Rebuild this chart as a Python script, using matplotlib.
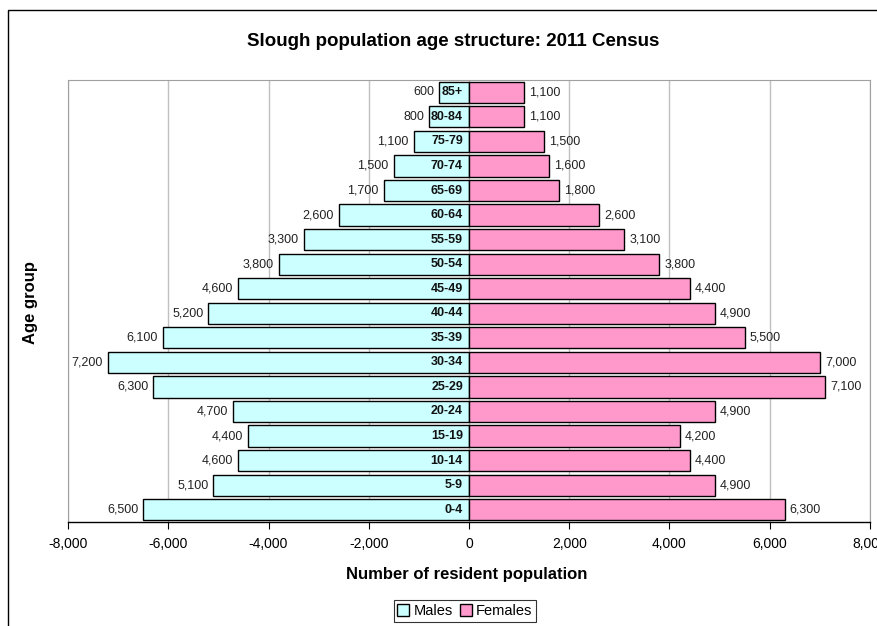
import matplotlib.pyplot as plt
from matplotlib.patches import Rectangle, Patch
from matplotlib.ticker import FuncFormatter

plt.rcParams['font.family'] = ['Liberation Sans', 'DejaVu Sans']

age_groups = ["0-4", "5-9", "10-14", "15-19", "20-24", "25-29", "30-34", "35-39",
              "40-44", "45-49", "50-54", "55-59", "60-64", "65-69", "70-74",
              "75-79", "80-84", "85+"]
males = [6500, 5100, 4600, 4400, 4700, 6300, 7200, 6100, 5200, 4600, 3800,
         3300, 2600, 1700, 1500, 1100, 800, 600]
females = [6300, 4900, 4400, 4200, 4900, 7100, 7000, 5500, 4900, 4400, 3800,
           3100, 2600, 1800, 1600, 1500, 1100, 1100]
x_ticks = [-8000, -6000, -4000, -2000, 0, 2000, 4000, 6000, 8000]

W, H = 878, 626
fig = plt.figure(figsize=(W / 100, H / 100), dpi=100)
ax = fig.add_axes([68 / W, 1 - 522 / H, (870 - 68) / W, (522 - 80) / H])

# outer chart frame
fig.patches.append(Rectangle((8 / W, -0.1), 2, 1 - 10 / H + 0.1,
                             transform=fig.transFigure, fill=False,
                             edgecolor='black', linewidth=1.0))

male_c = '#CCFFFF'
female_c = '#FF99CC'
y = list(range(len(age_groups)))
h = 0.86
ax.barh(y, [-m for m in males], height=h, color=male_c, edgecolor='black',
        linewidth=1.0, zorder=3)
ax.barh(y, females, height=h, color=female_c, edgecolor='black',
        linewidth=1.0, zorder=3)

for i, (m, f, g) in enumerate(zip(males, females, age_groups)):
    ax.text(-m - 100, i, f"{m:,}", ha='right', va='center', fontsize=9,
            color='#222222', zorder=4)
    ax.text(f + 100, i, f"{f:,}", ha='left', va='center', fontsize=9,
            color='#222222', zorder=4)
    ax.text(-120, i, g, ha='right', va='center', fontsize=9,
            fontweight='bold', color='#111111', zorder=4)

ax.set_xlim(-8000, 8000)
ax.set_ylim(-0.5, len(age_groups) - 0.5)
ax.set_xticks(x_ticks)
ax.xaxis.set_major_formatter(FuncFormatter(lambda v, p: f"{int(v):,}"))
ax.set_yticks([])
ax.tick_params(axis='x', direction='out', length=5, labelsize=10,
               colors='black', pad=6)
ax.grid(axis='x', color='#c0c0c0', linewidth=1.0, zorder=0)
for s in ['top', 'right', 'left']:
    ax.spines[s].set_color('#a0a0a0')
ax.spines['bottom'].set_color('black')
ax.spines['bottom'].set_linewidth(1.0)

fig.text(453 / W, 1 - 42 / H,
         "Slough population age structure: 2011 Census",
         ha='center', va='center', fontsize=13.5, fontweight='bold')
fig.text(467 / W, 1 - 574 / H, "Number of resident population",
         ha='center', va='center', fontsize=12, fontweight='bold')
fig.text(31 / W, 1 - 303 / H, "Age group", ha='center', va='center',
         rotation=90, fontsize=12, fontweight='bold')

handles = [Patch(facecolor=male_c, edgecolor='black', label='Males'),
           Patch(facecolor=female_c, edgecolor='black', label='Females')]
leg = fig.legend(handles=handles, loc='center', ncol=2,
                 bbox_to_anchor=(465 / W, 1 - 611 / H), fontsize=10.5,
                 frameon=True, fancybox=False, edgecolor='black',
                 handlelength=0.8, handleheight=0.8, handletextpad=0.3,
                 columnspacing=0.5, borderpad=0.25, borderaxespad=0)
leg.get_frame().set_linewidth(0.8)

fig.savefig('out.png', dpi=100, facecolor='white')
